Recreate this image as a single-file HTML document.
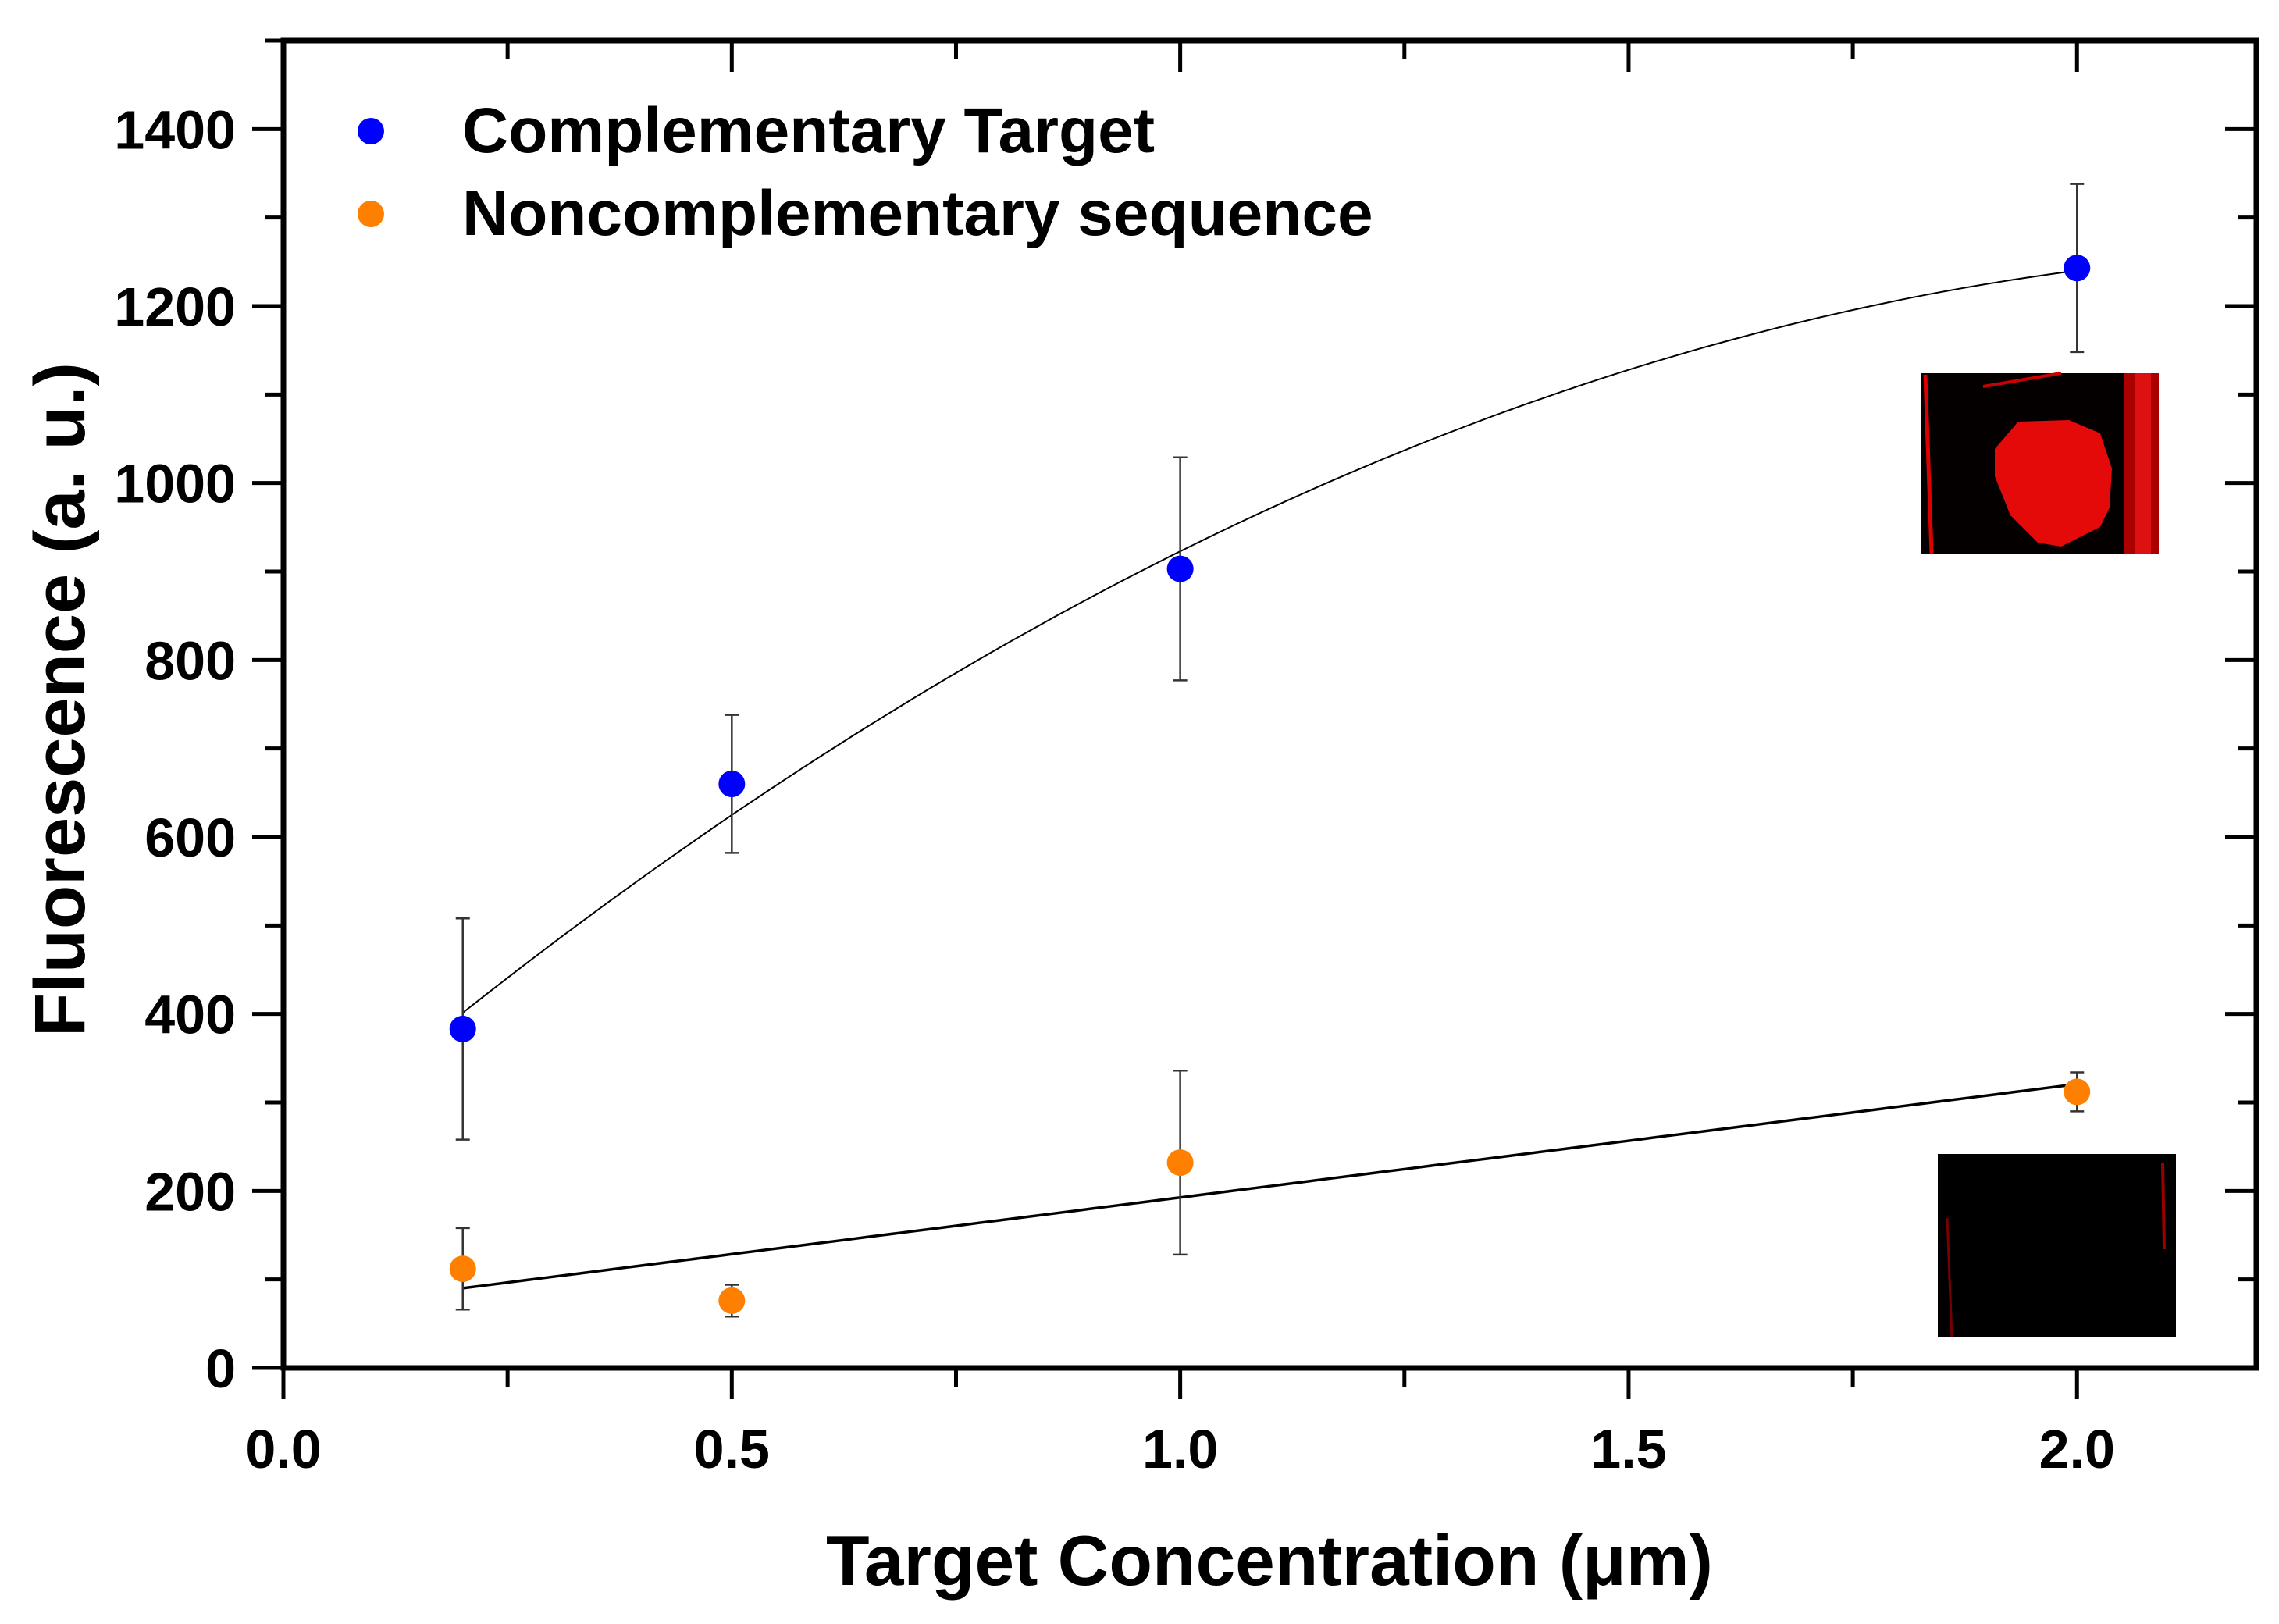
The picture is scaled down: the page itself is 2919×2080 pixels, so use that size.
<!DOCTYPE html>
<html><head><meta charset="utf-8"><style>
html,body{margin:0;padding:0;background:#fff;}
svg{display:block;font-family:"Liberation Sans",Arial,sans-serif;font-weight:bold;}
</style></head><body>
<svg id="chart" width="2919" height="2080" viewBox="0 0 2919 2080">
<g id="axes"></g>
<g id="insets">
  <g>
    <rect x="2461" y="478" width="304" height="231" fill="#050000"/>
    <path d="M2466 480 L2474 709" stroke="#d00" stroke-width="5"/>
    <path d="M2540 495 L2640 478" stroke="#c00" stroke-width="4"/>
    <rect x="2720" y="478" width="45" height="231" fill="#a00"/>
    <rect x="2735" y="478" width="20" height="231" fill="#d11"/>
    <path d="M2585 540 L2650 538 L2690 555 L2705 600 L2702 650 L2690 675 L2640 700 L2610 695 L2575 660 L2555 610 L2555 575 Z" fill="#e40a0a"/>
  </g>
  <g>
    <rect x="2482" y="1478" width="305" height="235" fill="#000"/>
    <path d="M2494 1560 L2500 1713" stroke="#700" stroke-width="3"/>
    <path d="M2770 1490 L2772 1600" stroke="#900" stroke-width="4"/>
  </g>
</g>
<g id="plot"></g>
<g>
  <circle cx="475" cy="168" r="17" fill="#0000ff"/>
  <text x="592" y="195" font-size="82">Complementary Target</text>
  <circle cx="475" cy="274" r="17" fill="#ff8000"/>
  <text x="592" y="301" font-size="82">Noncomplementary sequence</text>
</g>
<text x="1626" y="2030" font-size="91" text-anchor="middle">Target Concentration (μm)</text>
<text transform="translate(108,896) rotate(-90)" font-size="92" text-anchor="middle">Fluorescence (a. u.)</text>
</svg>
<script>
const xVals = [0.2, 0.5, 1.0, 2.0];
const blueY = [383, 660, 903, 1243];
const blueErr = [125, 78, 126, 95];
const orangeY = [112, 76, 232, 312];
const orangeErr = [46, 18, 104, 22];
const xTicks = [0.0, 0.5, 1.0, 1.5, 2.0];
const xTickLabels = ["0.0", "0.5", "1.0", "1.5", "2.0"];
const yTicks = [0, 200, 400, 600, 800, 1000, 1200, 1400];
const yTickLabels = ["0", "200", "400", "600", "800", "1000", "1200", "1400"];

const L = 363, R = 2890, T = 52, B = 1752;
const X0 = 0, X1 = 2.2, Y0 = 0, Y1 = 1500;
const sx = v => L + (v - X0) / (X1 - X0) * (R - L);
const sy = v => B - (v - Y0) / (Y1 - Y0) * (B - T);
const NS = "http://www.w3.org/2000/svg";
function mk(tag, attrs, parent) {
  const e = document.createElementNS(NS, tag);
  for (const k in attrs) e.setAttribute(k, attrs[k]);
  parent.appendChild(e);
  return e;
}
const axes = document.getElementById('axes');
const plot = document.getElementById('plot');

const frame = mk('rect', {x: L, y: T, width: R - L, height: B - T, fill: 'none', stroke: '#000', 'stroke-width': 7}, axes);



for (let v = 0; v <= 2.2001; v += 0.25) {
  const major = Math.abs(v * 2 - Math.round(v * 2)) < 1e-6;
  const x = sx(v);
  const t = mk('line', {x1: x, x2: x, y1: B, y2: B + (major ? 40 : 24), stroke: '#000', 'stroke-width': 5}, axes);
  
  
  const t2 = mk('line', {x1: x, x2: x, y1: T, y2: T + (major ? 40 : 24), stroke: '#000', 'stroke-width': 5}, axes);
  
  
}
xTicks.forEach((v, i) => {
  const tx = mk('text', {x: sx(v), y: 1880, 'font-size': 70, 'text-anchor': 'middle'}, axes);
  tx.textContent = xTickLabels[i];
  
  
});
for (let v = 0; v <= 1500; v += 100) {
  const major = v % 200 === 0;
  const y = sy(v);
  const t = mk('line', {x1: L - (major ? 40 : 24), x2: L, y1: y, y2: y, stroke: '#000', 'stroke-width': 5}, axes);
  
  
  const t2 = mk('line', {x1: R - (major ? 40 : 24), x2: R, y1: y, y2: y, stroke: '#000', 'stroke-width': 5}, axes);
  
  
}
yTicks.forEach((v, i) => {
  const tx = mk('text', {x: 302, y: sy(v) + 25, 'font-size': 70, 'text-anchor': 'end'}, axes);
  tx.textContent = yTickLabels[i];
  
  
});

function quadFit(xs, ys) {
  let n = xs.length, s = [0,0,0,0,0], t = [0,0,0];
  for (let i = 0; i < n; i++) { let p = 1; for (let k = 0; k < 5; k++) { s[k] += p; if (k < 3) t[k] += p * ys[i]; p *= xs[i]; } }
  const M = [[s[0],s[1],s[2],t[0]],[s[1],s[2],s[3],t[1]],[s[2],s[3],s[4],t[2]]];
  for (let i = 0; i < 3; i++) { for (let j = i + 1; j < 3; j++) { const f = M[j][i] / M[i][i]; for (let k = i; k < 4; k++) M[j][k] -= f * M[i][k]; } }
  const c = [0,0,0];
  for (let i = 2; i >= 0; i--) { let v = M[i][3]; for (let k = i + 1; k < 3; k++) v -= M[i][k] * c[k]; c[i] = v / M[i][i]; }
  return x => c[0] + c[1] * x + c[2] * x * x;
}
function linFit(xs, ys) {
  const n = xs.length, mx = xs.reduce((a,b)=>a+b)/n, my = ys.reduce((a,b)=>a+b)/n;
  let sxy = 0, sxx = 0;
  for (let i = 0; i < n; i++) { sxy += (xs[i]-mx)*(ys[i]-my); sxx += (xs[i]-mx)**2; }
  const b = sxy / sxx; return x => my + b * (x - mx);
}
function drawFit(f, name, w) {
  let d = '';
  for (let i = 0; i <= 100; i++) { const x = 0.2 + 1.8 * i / 100; d += (i ? 'L' : 'M') + sx(x).toFixed(1) + ' ' + sy(f(x)).toFixed(1); }
  const p = mk('path', {d: d, fill: 'none', stroke: '#000', 'stroke-width': w}, plot);
  
  
}
drawFit(quadFit(xVals, blueY), 'fit-curve-complementary', 2);
drawFit(linFit(xVals, orangeY), 'fit-line-noncomplementary', 3.5);

function drawSeries(ys, errs, color, name) {
  ys.forEach((v, i) => {
    const x = sx(xVals[i]);
    const e = mk('path', {d: `M${x} ${sy(v+errs[i])}V${sy(v-errs[i])}M${x-9} ${sy(v+errs[i])}h18M${x-9} ${sy(v-errs[i])}h18`, stroke: '#333', 'stroke-width': 2.5, fill: 'none'}, plot);
    
    
  });
  ys.forEach((v, i) => {
    const c = mk('circle', {cx: sx(xVals[i]), cy: sy(v), r: 17, fill: color}, plot);
    
    
  });
}
drawSeries(blueY, blueErr, '#0000ff', 'complementary');
drawSeries(orangeY, orangeErr, '#ff8000', 'noncomplementary');
</script>
</body></html>
